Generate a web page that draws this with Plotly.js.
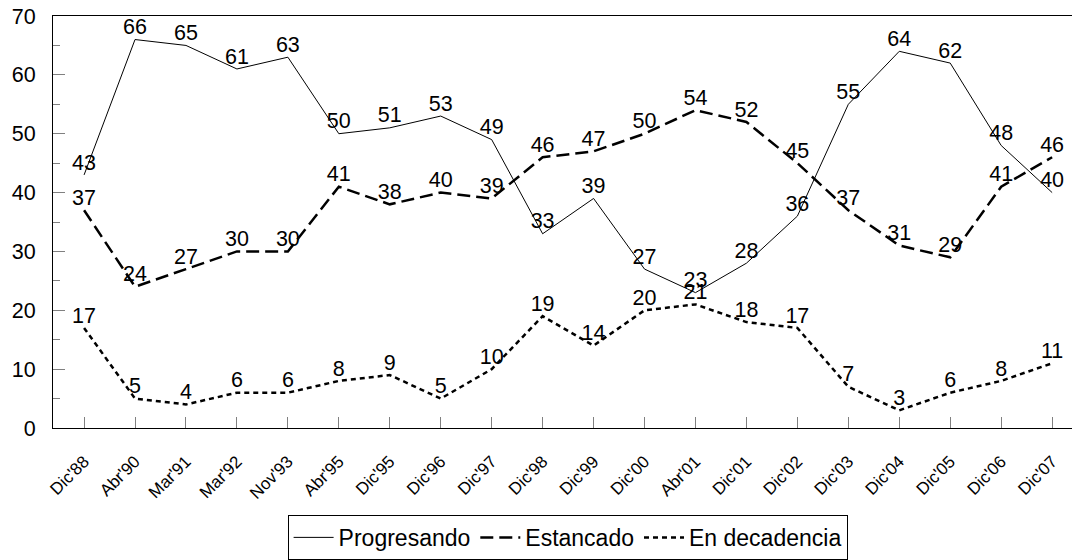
<!DOCTYPE html>
<html>
<head>
<meta charset="utf-8">
<script src="https://cdn.plot.ly/plotly-3.0.1.min.js"></script>
<style>
    html, body { margin: 0; padding: 0; background: #fff; }
    #chart { width: 1072px; height: 560px; }
</style>
</head>
<body>
<div id="chart"></div>
<script>
// Survey periods
const periods = ["Dic'88", "Abr'90", "Mar'91", "Mar'92", "Nov'93", "Abr'95", "Dic'95", "Dic'96",
    "Dic'97", "Dic'98", "Dic'99", "Dic'00", "Abr'01", "Dic'01", "Dic'02", "Dic'03",
    "Dic'04", "Dic'05", "Dic'06", "Dic'07"];

// Values per answer (%)
const progresando = [43, 66, 65, 61, 63, 50, 51, 53, 49, 33, 39, 27, 23, 28, 36, 55, 64, 62, 48, 40];
const estancado = [37, 24, 27, 30, 30, 41, 38, 40, 39, 46, 47, 50, 54, 52, 45, 37, 31, 29, 41, 46];
const decadencia = [17, 5, 4, 6, 6, 8, 9, 5, 10, 19, 14, 20, 21, 18, 17, 7, 3, 6, 8, 11];

const FONT = 'Liberation Sans, Arial, sans-serif';

function lineTrace(name, values, line) {
    return {
        type: 'scatter',
        mode: 'lines+text',
        name: name,
        x: periods,
        y: values,
        text: values.map(String),
        textposition: 'top center',
        textfont: { family: FONT, size: 21.5, color: '#000' },
        line: line,
        cliponaxis: false,
        hoverinfo: 'x+y',
    };
}

const data = [
    lineTrace('Progresando', progresando, { color: '#000', width: 1 }),
    lineTrace('Estancado', estancado, { color: '#000', width: 2.5, dash: '13px,6px' }),
    lineTrace('En decadencia', decadencia, { color: '#000', width: 2.5, dash: '5px,4px' }),
];

const layout = {
    width: 1072,
    height: 560,
    paper_bgcolor: '#fff',
    plot_bgcolor: '#fff',
    font: { family: FONT, color: '#000', size: 21.5 },
    margin: { t: 16, r: 0, b: 132, l: 53 },
    showlegend: true,
    legend: {
        orientation: 'h',
        x: 0.505,
        xanchor: 'center',
        y: -0.211,
        yanchor: 'top',
        bordercolor: '#000',
        borderwidth: 1,
        font: { family: FONT, size: 23, color: '#000' },
        itemwidth: 40,
    },
    xaxis: {
        type: 'category',
        range: [-0.61, 19.39],
        showgrid: false,
        zeroline: false,
        showline: true,
        linecolor: '#000',
        linewidth: 1,
        mirror: true,
        ticks: 'inside',
        ticklen: 11,
        tickcolor: '#808080',
        tickangle: -45,
        ticklabelstandoff: 16,
        tickfont: { family: FONT, size: 17, color: '#000' },
    },
    yaxis: {
        range: [0, 70],
        dtick: 10,
        showgrid: false,
        zeroline: false,
        showline: true,
        linecolor: '#000',
        linewidth: 1,
        mirror: true,
        ticks: 'inside',
        ticklen: 12,
        tickcolor: '#808080',
        ticklabelstandoff: 12,
        tickfont: { family: FONT, size: 21.5, color: '#000' },
        minor: { dtick: 5, ticks: 'inside', ticklen: 7, tickcolor: '#808080' },
    },
};

Plotly.newPlot('chart', data, layout, { displayModeBar: false, responsive: false });
</script>
</body>
</html>
